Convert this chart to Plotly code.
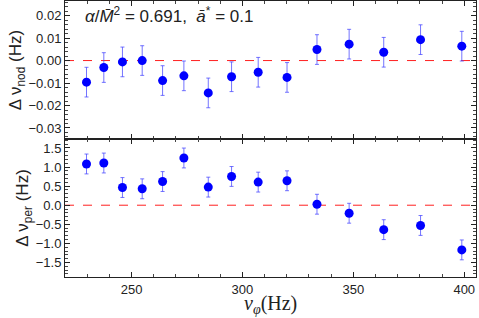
import plotly.graph_objects as go
from plotly.subplots import make_subplots

nu_phi = [229.7, 237.5, 245.9, 254.8, 264.0, 273.6, 284.6, 295.1, 307.1, 320.1, 333.6, 348.1, 363.7, 380.3, 398.9]
d_nod = [-0.0096, -0.0031, -0.0006, 0.0000, -0.0089, -0.0068, -0.0144, -0.0072, -0.0052, -0.0075, 0.0049, 0.0073, 0.0037, 0.0093, 0.0064]
d_nod_err = [0.0066] * 15
d_per = [1.08, 1.105, 0.463, 0.43, 0.62, 1.237, 0.474, 0.753, 0.605, 0.64, 0.026, -0.21, -0.64, -0.53, -1.17]
d_per_err = [0.26] * 15

fig = make_subplots(rows=2, cols=1, shared_xaxes=True, vertical_spacing=0)

err_color = "rgba(70,70,255,0.75)"
for row, yv, ye in [(1, d_nod, d_nod_err), (2, d_per, d_per_err)]:
    fig.add_trace(go.Scatter(
        x=nu_phi, y=yv, mode="markers",
        marker=dict(color="#0000ff", size=9, line=dict(width=0)),
        error_y=dict(type="data", array=ye, color=err_color, thickness=1, width=2),
        showlegend=False, hoverinfo="skip"), row=row, col=1)
    fig.add_hline(y=0, row=row, col=1, layer="below", line=dict(color="#ff2020", width=1, dash="dash"))

tickfont = dict(family="Liberation Sans, Arial, sans-serif", size=13, color="#222")
common_x = dict(range=[220, 405.3], showline=True, linecolor="#222", linewidth=1, mirror="allticks",
                ticks="inside", ticklen=5, tickcolor="#222", tickvals=[250, 300, 350, 400],
                minor=dict(dtick=10, tick0=0, ticks="inside", ticklen=3, tickcolor="#444", showgrid=False),
                showgrid=False, zeroline=False, tickfont=tickfont, automargin=False)
fig.update_xaxes(**common_x, row=1, col=1)
fig.update_xaxes(**common_x, row=2, col=1)
fig.update_xaxes(showticklabels=False, row=1, col=1)
fig.update_xaxes(ticktext=["250", "300", "350", "400"], row=2, col=1)

common_y = dict(showline=True, linecolor="#222", linewidth=1, mirror="allticks",
                ticks="inside", ticklen=5, tickcolor="#222", showgrid=False, zeroline=False,
                tickfont=tickfont, automargin=False)
fig.update_yaxes(**common_y, range=[-0.0349, 0.0265], tickvals=[-0.03, -0.02, -0.01, 0, 0.01, 0.02],
                 ticktext=["\u22120.03", "\u22120.02", "\u22120.01", "0.00", "0.01", "0.02"],
                 minor=dict(dtick=0.002, ticks="inside", ticklen=3, tickcolor="#444", showgrid=False),
                 title=dict(text="\u0394 \u03bd<sub>nod</sub> (Hz)", standoff=2,
                            font=dict(family="Liberation Sans, Arial, sans-serif", size=17, color="#222")),
                 row=1, col=1)
fig.update_yaxes(**common_y, range=[-1.88, 1.734], tickvals=[-1.5, -1, -0.5, 0, 0.5, 1, 1.5],
                 ticktext=["\u22121.5", "\u22121.0", "\u22120.5", "0.0", "0.5", "1.0", "1.5"],
                 minor=dict(dtick=0.1, ticks="inside", ticklen=3, tickcolor="#444", showgrid=False),
                 title=dict(text="\u0394 \u03bd<sub>per</sub> (Hz)", standoff=2,
                            font=dict(family="Liberation Sans, Arial, sans-serif", size=17, color="#222")),
                 row=2, col=1)

fig.add_annotation(xref="paper", yref="paper", x=0.045, y=1.0, xanchor="left", yanchor="top", yshift=-1,
                   text="<i>\u03b1</i>/<i>M\u0304</i><sup>2</sup> = 0.691,  <i>a\u0304</i><sup>*</sup> = 0.1",
                   showarrow=False,
                   font=dict(family="Liberation Sans, Arial, sans-serif", size=17, color="#222"))

fig.add_annotation(xref="paper", yref="paper", x=0.5, y=-0.1, xanchor="center", yanchor="middle",
                   text="<i>ν</i><sub><i>φ</i></sub>(Hz)", showarrow=False,
                   font=dict(family="Liberation Serif, Times New Roman, serif", size=20, color="#222"))

fig.update_layout(width=479, height=318, margin=dict(l=65, r=3, t=1, b=41, autoexpand=False),
                  plot_bgcolor="white", paper_bgcolor="white", hovermode=False)

fig.write_html("out.html", config={"displayModeBar": False},
               post_script="document.body.style.margin='0px';document.body.style.overflow='hidden';")
